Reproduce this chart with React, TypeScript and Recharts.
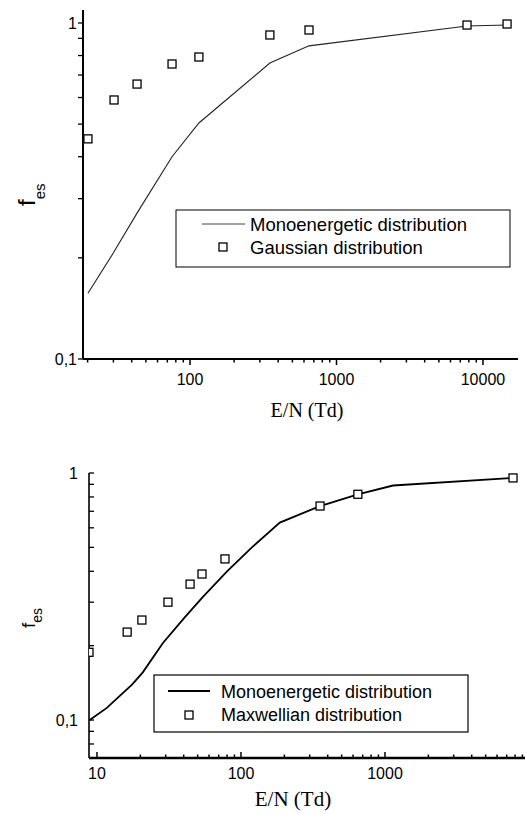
import React from 'react';
import { ComposedChart, Line, Scatter, XAxis, YAxis } from 'recharts';

// ---------- Top chart (Gaussian) ----------
const topLineX = [20.1, 30, 44, 75.4, 115, 351, 649, 7780, 14600];
const topLineY = [0.157, 0.207, 0.274, 0.4, 0.504, 0.76, 0.855, 0.98, 0.986];
const topSqX = [20.1, 30.3, 43.5, 75.4, 115, 351, 649, 7780, 14600];
const topSqY = [0.452, 0.59, 0.658, 0.755, 0.792, 0.921, 0.953, 0.986, 0.993];
const topXTicks = [20, 30, 40, 50, 60, 70, 80, 90, 100, 200, 300, 400, 500, 600, 700, 800, 900, 1000, 2000, 3000, 4000, 5000, 6000, 7000, 8000, 9000, 10000];
const topYTicks = [0.1, 0.2, 0.3, 0.4, 0.5, 0.6, 0.7, 0.8, 0.9, 1];
const topLegend = ['Monoenergetic distribution', 'Gaussian distribution'];

// ---------- Bottom chart (Maxwellian) ----------
const botLineX = [8.9, 11.7, 17.5, 20.8, 28.7, 40.8, 54.4, 80, 119, 186, 354, 648, 1137, 7745];
const botLineY = [0.1, 0.112, 0.139, 0.156, 0.205, 0.261, 0.315, 0.4, 0.5, 0.63, 0.735, 0.82, 0.89, 0.955];
const botSqX = [8.8, 16.2, 20.5, 31.1, 44.3, 53.6, 77.4, 354, 648, 7745];
const botSqY = [0.188, 0.227, 0.254, 0.3, 0.355, 0.39, 0.449, 0.735, 0.82, 0.955];
const botXTicks = [10, 20, 30, 40, 50, 60, 70, 80, 90, 100, 200, 300, 400, 500, 600, 700, 800, 900, 1000, 2000, 3000, 4000, 5000, 6000, 7000, 8000, 9000];
const botYTicks = [0.08, 0.09, 0.1, 0.2, 0.3, 0.4, 0.5, 0.6, 0.7, 0.8, 0.9, 1];
const botLegend = ['Monoenergetic distribution', 'Maxwellian distribution'];

const xMajors = [10, 100, 1000, 10000];
const yMajors: Record<string, string> = { '1': '1', '0.1': '0,1' };
const xTitle = 'E/N (Td)';

const SANS = "'Liberation Sans', Arial, Helvetica, sans-serif";
const SERIF = "'Liberation Serif', 'Times New Roman', serif";

const zip = (xs: number[], ys: number[]) => xs.map((x, i) => ({ x, y: ys[i] }));

const Square = (props: any) => {
  const { cx, cy } = props;
  if (cx == null || cy == null) return null;
  return <rect x={cx - 4} y={cy - 4} width={8} height={8} fill="#fff" stroke="#000" strokeWidth={1.3} />;
};

const makeXTick = (inside: boolean, labelDy: number) => (props: any) => {
  const { x, y, payload } = props;
  const v = payload.value;
  const major = xMajors.includes(v);
  const len = major ? 6 : 3.5;
  const dir = inside ? -1 : 1;
  return (
    <g>
      <line x1={x} x2={x} y1={y} y2={y + dir * len} stroke="#000" strokeWidth={1.5} />
      {major && (
        <text x={x} y={y + labelDy} textAnchor="middle" fontFamily={SANS} fontSize={16} fill="#000">
          {String(v)}
        </text>
      )}
    </g>
  );
};

const makeYTick = (inside: boolean, gap: number) => (props: any) => {
  const { x, y, payload } = props;
  const v = payload.value;
  const lbl = yMajors[String(v)];
  const len = 5;
  const dir = inside ? 1 : -1;
  return (
    <g>
      <line x1={x} x2={x + dir * len} y1={y} y2={y} stroke="#000" strokeWidth={1.3} />
      {lbl && (
        <text x={x - gap} y={y + 6} textAnchor="end" fontFamily={SANS} fontSize={16} fill="#000">
          {lbl}
        </text>
      )}
    </g>
  );
};

const TopChart = () => (
  <ComposedChart width={525} height={420} margin={{ top: 10, right: 7, bottom: 0, left: 0 }}>
    <XAxis
      dataKey="x"
      type="number"
      scale="log"
      domain={[18.6, 17340]}
      allowDataOverflow
      ticks={topXTicks}
      interval={0}
      tickSize={0}
      tickMargin={0}
      tickLine={false}
      tick={makeXTick(false, 26)}
      height={61}
      axisLine={{ stroke: '#000', strokeWidth: 2 }}
    />
    <YAxis
      dataKey="y"
      type="number"
      scale="log"
      domain={[0.1, 1.093]}
      allowDataOverflow
      ticks={topYTicks}
      interval={0}
      tickSize={0}
      tickMargin={0}
      tickLine={false}
      tick={makeYTick(false, 6)}
      width={83}
      axisLine={{ stroke: '#000', strokeWidth: 2 }}
    />
    <Line data={zip(topLineX, topLineY)} dataKey="y" type="linear" stroke="#222" strokeWidth={1.1} dot={false} isAnimationActive={false} />
    <Scatter data={zip(topSqX, topSqY)} dataKey="y" shape={Square} isAnimationActive={false} />
  </ComposedChart>
);

const BottomChart = () => (
  <ComposedChart width={525} height={384} margin={{ top: 43, right: 0, bottom: 0, left: 0 }}>
    <XAxis
      dataKey="x"
      type="number"
      scale="log"
      domain={[8.8, 9380]}
      allowDataOverflow
      ticks={botXTicks}
      interval={0}
      tickSize={0}
      tickMargin={0}
      tickLine={false}
      tick={makeXTick(true, 21)}
      height={56}
      axisLine={{ stroke: '#000', strokeWidth: 2.5 }}
    />
    <YAxis
      dataKey="y"
      type="number"
      scale="log"
      domain={[0.0702, 1]}
      allowDataOverflow
      ticks={botYTicks}
      interval={0}
      tickSize={0}
      tickMargin={0}
      tickLine={false}
      tick={makeYTick(true, 11)}
      width={89}
      axisLine={{ stroke: '#000', strokeWidth: 1.6 }}
    />
    <Line data={zip(botLineX, botLineY)} dataKey="y" type="linear" stroke="#000" strokeWidth={1.8} dot={false} isAnimationActive={false} />
    <Scatter data={zip(botSqX, botSqY)} dataKey="y" shape={Square} isAnimationActive={false} />
  </ComposedChart>
);

const Overlay = () => (
  <svg width={525} height={814} style={{ position: 'absolute', left: 0, top: 0, pointerEvents: 'none' }}>
    {/* y titles */}
    <text x={35} y={206} transform="rotate(-90 35 206)" fontFamily={SANS} fill="#000">
      <tspan fontSize={24}>f</tspan>
      <tspan fontSize={15} dy={10}>es</tspan>
    </text>
    <text x={35} y={628} transform="rotate(-90 35 628)" fontFamily={SANS} fill="#000">
      <tspan fontSize={19}>f</tspan>
      <tspan fontSize={14} dy={7}>es</tspan>
    </text>
    {/* x titles */}
    <text x={307} y={417} textAnchor="middle" fontFamily={SERIF} fontSize={20} fill="#000">{xTitle}</text>
    <text x={293} y={806} textAnchor="middle" fontFamily={SERIF} fontSize={21} fill="#000">{xTitle}</text>

    {/* legend top */}
    <rect x={176} y={210} width={334} height={57} fill="#fff" stroke="#000" strokeWidth={1} />
    <line x1={202} x2={245} y1={224} y2={224} stroke="#444" strokeWidth={1} />
    <text x={250} y={230.5} fontFamily={SANS} fontSize={18.5} fill="#000">{topLegend[0]}</text>
    <rect x={219} y={243} width={8} height={8} fill="#fff" stroke="#000" strokeWidth={1.3} />
    <text x={250} y={253.5} fontFamily={SANS} fontSize={18.5} fill="#000">{topLegend[1]}</text>

    {/* legend bottom */}
    <rect x={154} y={675} width={314} height={57} fill="#fff" stroke="#000" strokeWidth={1.2} />
    <line x1={168} x2={210} y1={691} y2={691} stroke="#000" strokeWidth={1.8} />
    <text x={221} y={697.5} fontFamily={SANS} fontSize={18} fill="#000">{botLegend[0]}</text>
    <rect x={185} y={711} width={8} height={8} fill="#fff" stroke="#000" strokeWidth={1.3} />
    <text x={221} y={720.5} fontFamily={SANS} fontSize={18} fill="#000">{botLegend[1]}</text>
  </svg>
);

export default function App() {
  return (
    <div style={{ position: 'absolute', left: 0, top: 0, width: 525, height: 814, background: '#fff', overflow: 'hidden' }}>
      <div style={{ position: 'absolute', left: 0, top: 0 }}>
        <TopChart />
      </div>
      <div style={{ position: 'absolute', left: 0, top: 430 }}>
        <BottomChart />
      </div>
      <Overlay />
    </div>
  );
}
